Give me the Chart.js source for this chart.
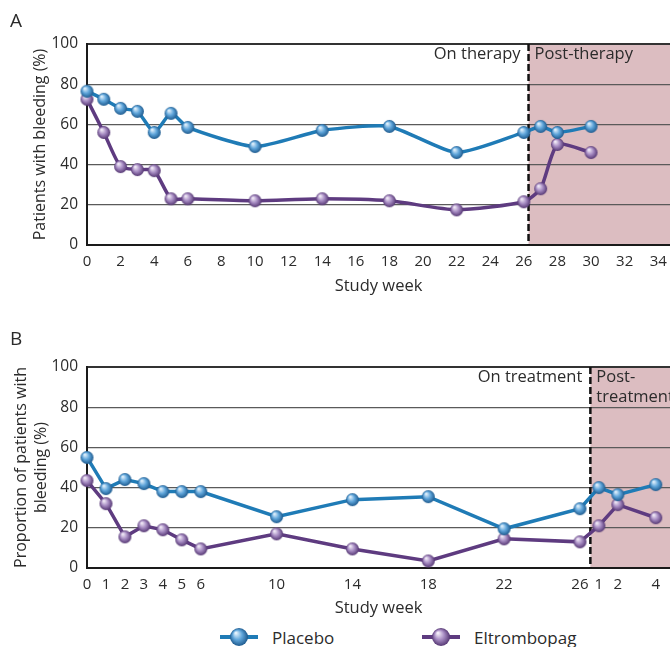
<!DOCTYPE html>
<html>
<head>
<meta charset="utf-8">
<script src="https://cdn.jsdelivr.net/npm/chart.js@4"></script>
<style>
  body { margin: 0; background: #fff; width: 670px; height: 647px; overflow: hidden; position: relative;
         font-family: "Open Sans", sans-serif; color: #2b2b2b; }
  #wrapA { position: absolute; left: 0; top: 0; width: 670px; height: 300px; }
  #wrapB { position: absolute; left: 0; top: 300px; width: 670px; height: 320px; }
  .leg { position: absolute; top: 626px; height: 22px; display: flex; align-items: center; font-size: 17px; }
  .leg canvas { margin-right: 14px; }
</style>
</head>
<body>
<div id="wrapA"><canvas id="chartA" width="670" height="300"></canvas></div>
<div id="wrapB"><canvas id="chartB" width="670" height="320"></canvas></div>
<div class="leg" id="legPlacebo" style="left:220px"></div>
<div class="leg" id="legEltro" style="left:422px"></div>
<script>
// ---- data ----
const seriesNames = ['Placebo', 'Eltrombopag'];
const yTicks = [0, 20, 40, 60, 80, 100];

// panel A: study week (linear)
const weeksA = [0, 1, 2, 3, 4, 5, 6, 10, 14, 18, 22, 26, 27, 28, 30];
const placeboA = [76.5, 72.5, 68, 66.5, 56, 65.5, 58.5, 49, 57, 59, 46, 56, 59, 56, 59];
const eltroA = [72.5, 56, 39, 37.5, 37, 23, 23, 22, 23, 22, 17.5, 21.5, 28, 50, 46];
const tickWeeksA = [0, 2, 4, 6, 8, 10, 12, 14, 16, 18, 20, 22, 24, 26, 28, 30, 32, 34];

// panel B: on-treatment weeks, then post-treatment weeks 1, 2, 4
const weeksB = [0, 1, 2, 3, 4, 5, 6, 10, 14, 18, 22, 26, 27, 28, 30];
const tickLabelsB = ['0', '1', '2', '3', '4', '5', '6', '10', '14', '18', '22', '26', '1', '2', '4'];
const placeboB = [55, 39.5, 44, 42, 38, 38, 38, 25.5, 34, 35.5, 19.5, 29.5, 40, 36.5, 41.5];
const eltroB = [43.5, 32, 15.5, 21, 19, 14, 9.5, 17, 9.5, 3.5, 14.5, 13, 21, 31.5, 25];

const FONT = '"Open Sans", sans-serif';
const TXT = '#2b2b2b';
const blue = { line: '#1f7bb6', light: '#e2f1fc', mid: '#5fa5da', dark: '#1d5a8e' };
const purple = { line: '#5e3b80', light: '#f3ecf8', mid: '#a68bc2', dark: '#553773' };

function sphere(r, c) {
  const cv = document.createElement('canvas');
  const s = Math.ceil(r * 2 + 2);
  cv.width = cv.height = s;
  const g = cv.getContext('2d');
  const m = s / 2;
  const grad = g.createRadialGradient(m - r * 0.35, m - r * 0.45, r * 0.08, m, m, r);
  grad.addColorStop(0, c.light);
  grad.addColorStop(0.5, c.mid);
  grad.addColorStop(1, c.dark);
  g.fillStyle = grad;
  g.beginPath(); g.arc(m, m, r, 0, Math.PI * 2); g.fill();
  return cv;
}

const pts = (xs, ys) => xs.map((x, i) => ({ x, y: ys[i] }));

// shaded post-therapy area, dashed divider and labels
const phasePlugin = {
  id: 'phase',
  beforeDraw(chart, args, o) {
    const { ctx, chartArea: a, scales: { x } } = chart;
    const xs = x.getPixelForValue(o.split);
    ctx.save();
    ctx.fillStyle = '#dcbdc1';
    ctx.fillRect(xs, a.top, a.right - xs, a.bottom - a.top);
    ctx.restore();
  },
  beforeDatasetsDraw(chart, args, o) {
    const { ctx, chartArea: a, scales: { x } } = chart;
    const xs = x.getPixelForValue(o.split);
    ctx.save();
    ctx.strokeStyle = '#111';
    ctx.lineWidth = 2.5;
    ctx.setLineDash([7, 3]);
    ctx.beginPath(); ctx.moveTo(xs, a.top); ctx.lineTo(xs, a.bottom); ctx.stroke();
    ctx.restore();
  },
  afterDraw(chart, args, o) {
    const { ctx, chartArea: a, scales: { x } } = chart;
    const xs = x.getPixelForValue(o.split);
    ctx.save();
    ctx.fillStyle = TXT;
    ctx.textBaseline = 'middle';
    ctx.font = '16.5px ' + FONT;
    ctx.textAlign = 'right';
    o.left.forEach((t, i) => ctx.fillText(t, xs - 8, a.top + 10 + i * 20));
    ctx.textAlign = 'left';
    o.right.forEach((t, i) => ctx.fillText(t, xs + 6, a.top + 10 + i * 20));
    ctx.font = '19px ' + FONT;
    ctx.fillText(o.letter, 10, o.letterY);
    ctx.restore();
  }
};

function makeChart(id, cfg) {
  const ds = (label, xs, ys, c) => ({
    label, data: pts(xs, ys),
    borderColor: c.line, borderWidth: 3.5,
    pointStyle: sphere(6.5, c), pointRadius: 6.5, pointHoverRadius: 6.5,
    tension: cfg.tension, clip: false
  });
  return new Chart(document.getElementById(id), {
    type: 'line',
    data: {
      datasets: [
        ds(seriesNames[0], cfg.weeks, cfg.placebo, blue),
        ds(seriesNames[1], cfg.weeks, cfg.eltro, purple)
      ]
    },
    options: {
      responsive: false,
      animation: false,
      events: [],
      layout: { autoPadding: false, padding: { top: cfg.padTop, right: 0, left: 0, bottom: 0 } },
      plugins: {
        legend: { display: false },
        tooltip: { enabled: false },
        phase: { split: cfg.split, left: cfg.leftText, right: cfg.rightText, letter: cfg.letter, letterY: cfg.letterY }
      },
      scales: {
        x: {
          type: 'linear', min: 0, max: cfg.xMax,
          afterBuildTicks: s => { s.ticks = cfg.tickValues.map(v => ({ value: v })); },
          afterFit: s => { s.height = cfg.xHeight; s.paddingLeft = 0; s.paddingRight = 0; },
          grid: { display: false, drawTicks: false },
          border: { display: true, color: '#1a1a1a', width: 2 },
          ticks: {
            autoSkip: false, maxRotation: 0, padding: 8, color: TXT,
            font: { family: FONT, size: 15 },
            callback: cfg.tickLabel
          },
          title: { display: true, text: 'Study week', color: TXT, font: { family: FONT, size: 16.5 }, padding: { bottom: cfg.xTitlePad, top: 0 } }
        },
        y: {
          min: 0, max: 100,
          afterBuildTicks: s => { s.ticks = yTicks.map(v => ({ value: v })); },
          afterFit: s => { s.width = 87; s.paddingTop = 0; s.paddingBottom = 0; },
          grid: {
            drawTicks: false,
            color: c => c.tick && c.tick.value === 100 ? '#333' : '#5a5a5a',
            lineWidth: c => c.tick && c.tick.value === 100 ? 2 : 1.2
          },
          border: { display: true, color: '#1a1a1a', width: 2 },
          ticks: { padding: 9, color: TXT, font: { family: FONT, size: 15.5 } },
          title: {
            display: true, text: cfg.yTitle, color: TXT,
            font: { family: FONT, size: 16, lineHeight: 1.25 },
            padding: { top: cfg.yTitlePad, bottom: 0 }
          }
        }
      }
    },
    plugins: [phasePlugin]
  });
}

makeChart('chartA', {
  weeks: weeksA, placebo: placeboA, eltro: eltroA, tension: 0.2,
  xMax: 34.7, tickValues: tickWeeksA, tickLabel: v => String(v),
  padTop: 44, xHeight: 55, xTitlePad: 4, yTitle: 'Patients with bleeding (%)', yTitlePad: 30,
  split: 26.28, leftText: ['On therapy'], rightText: ['Post-therapy'], letter: 'A', letterY: 22
});

makeChart('chartB', {
  weeks: weeksB, placebo: placeboB, eltro: eltroB, tension: 0,
  xMax: 30.75, tickValues: weeksB, tickLabel: (v, i) => tickLabelsB[i],
  padTop: 67, xHeight: 52, xTitlePad: 2, yTitle: ['Proportion of patients with', 'bleeding (%)'], yTitlePad: 11,
  split: 26.55, leftText: ['On treatment'], rightText: ['Post-', 'treatment'], letter: 'B', letterY: 40
});

// legend markers
function legendItem(id, name, c) {
  const el = document.getElementById(id);
  const cv = document.createElement('canvas');
  cv.width = 38; cv.height = 22;
  const g = cv.getContext('2d');
  g.strokeStyle = c.line; g.lineWidth = 4;
  g.beginPath(); g.moveTo(0, 11); g.lineTo(38, 11); g.stroke();
  g.drawImage(sphere(9, c), 19 - 10, 11 - 10);
  el.appendChild(cv);
  const sp = document.createElement('span');
  sp.textContent = name;
  el.appendChild(sp);
}
legendItem('legPlacebo', seriesNames[0], blue);
legendItem('legEltro', seriesNames[1], purple);
</script>
</body>
</html>
